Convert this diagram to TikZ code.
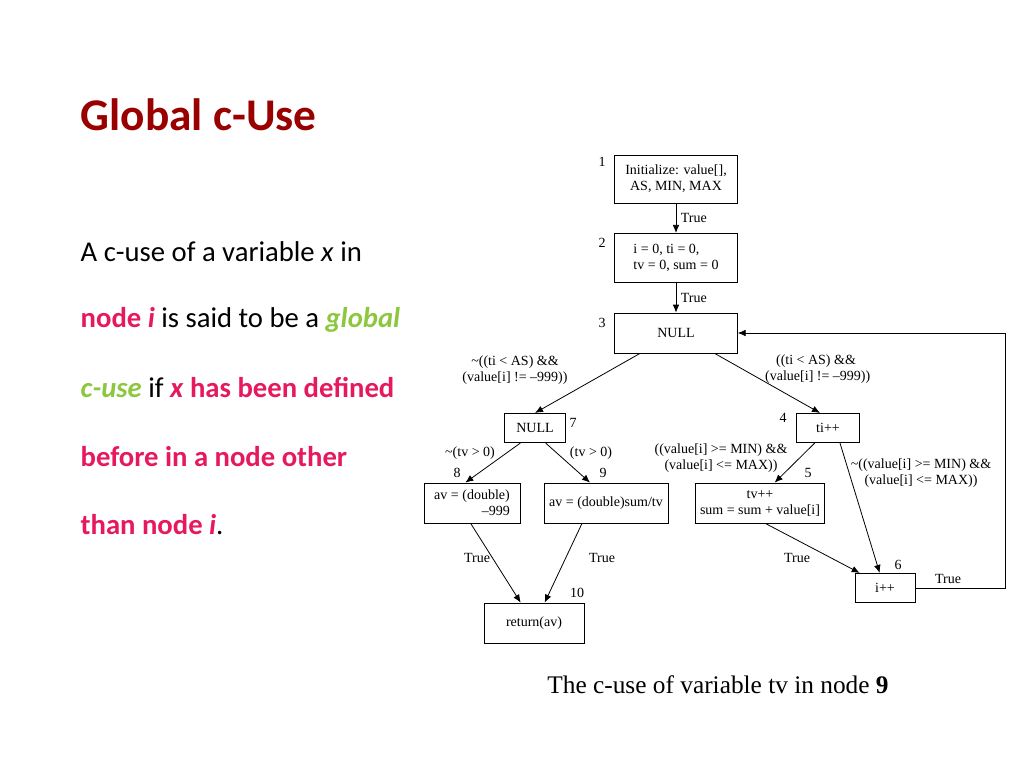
\documentclass[tikz,border=0pt]{standalone}
\usepackage{fontspec}
\setmainfont{Liberation Serif}
\newfontfamily\slidefont{Carlito}
\usetikzlibrary{arrows.meta}
\usetikzlibrary{positioning}
\definecolor{titlered}{HTML}{990000}
\definecolor{hotpink}{HTML}{E6195E}
\definecolor{limegreen}{HTML}{8DC63F}
\tikzset{
    blk/.style={draw, semithick, inner sep=0pt, align=center, font=\fontsize{10.5}{12}\selectfont},
    num/.style={font=\fontsize{10.5}{11}\selectfont},
    lbl/.style={font=\fontsize{10.5}{12}\selectfont, align=center},
    flow/.style={-{Latex[length=6pt,width=5pt]}, semithick},
    bodyline/.style={anchor=west, font=\slidefont\fontsize{21.5}{24}\selectfont}
}
\begin{document}
\begin{tikzpicture}[x=0.75pt, y=-0.75pt]
    \useasboundingbox (0,0) rectangle (1024,768);
    \node [anchor=west, text=titlered, font=\slidefont\bfseries\fontsize{34}{40}\selectfont] (title) at (76,115) {Global c-Use};
    \node [bodyline] (t1) at (76,252) {A c-use of a variable \textit{x} in};
    \node [bodyline] (t2) at (76,320) {\textcolor{hotpink}{\textbf{node \textit{i}}} is said to be a \textcolor{limegreen}{\textbf{\textit{global}}}};
    \node [bodyline] (t3) at (76,388) {\textcolor{limegreen}{\textbf{\textit{c-use}}} if \textcolor{hotpink}{\textbf{\textit{x} has been defined}}};
    \node [bodyline, text=hotpink] (t4) at (76,457) {\textbf{before in a node other}};
    \node [bodyline] (t5) at (76,525) {\textcolor{hotpink}{\textbf{than node \textit{i}}}.};
    % blocks
    \node [blk, minimum width=92pt, minimum height=36pt] (1) at (676,179) {Initialize: value[],\\AS, MIN, MAX};
    \node [blk, minimum width=92pt, minimum height=37pt, align=left] (2) at (676,258) {i = 0, ti = 0,\\tv = 0, sum = 0};
    \node [blk, minimum width=92pt, minimum height=30pt] (3) at (676,333) {NULL};
    \node [blk, minimum width=46pt, minimum height=22pt] (7) at (535,428) {NULL};
    \node [blk, minimum width=47pt, minimum height=22pt] (4) at (828,428) {ti++};
    \node [blk, minimum width=72pt, minimum height=30pt, align=right] (8) at (472,503) {av = (double)\\--999};
    \node [blk, minimum width=93pt, minimum height=30pt] (9) at (606,503) {av = (double)sum/tv};
    \node [blk, minimum width=97pt, minimum height=30pt] (5) at (760,503) {tv++\\sum = sum + value[i]};
    \node [blk, minimum width=45pt, minimum height=22pt] (6) at (885,588) {i++};
    \node [blk, minimum width=75pt, minimum height=30pt] (10) at (534,623) {return(av)};
    % numbers
    \node [num] at (602,162) {1};
    \node [num] at (602,243) {2};
    \node [num] at (602,323) {3};
    \node [num] at (573,423) {7};
    \node [num] at (783,418) {4};
    \node [num] at (457,473) {8};
    \node [num] at (603,473) {9};
    \node [num] at (808,473) {5};
    \node [num] at (898,565) {6};
    \node [num] at (577,593) {10};
    % edges
    \draw [flow] (1) -- node [lbl, right] {True} (2);
    \draw [flow] (2) -- node [lbl, right] {True} (3);
    \draw [flow] ([xshift=-27pt]3.south) -- (7.north);
    \draw [flow] ([xshift=29pt]3.south) -- ([xshift=-6pt]4.north);
    \draw [flow] ([xshift=-11pt]7.south) -- ([xshift=-5pt]8.north);
    \draw [flow] ([xshift=8pt]7.south) -- ([xshift=-12pt]9.north);
    \draw [flow] ([xshift=-10pt]4.south) -- ([xshift=11pt]5.north);
    \draw [flow] ([xshift=9pt]4.south) -- ([xshift=-4pt]6.north);
    \draw [flow] ([xshift=-1pt]8.south) -- ([xshift=-10pt]10.north);
    \draw [flow] ([xshift=-18pt]9.south) -- ([xshift=8pt]10.north);
    \draw [flow] ([xshift=4pt]5.south) -- ([xshift=-19pt]6.north);
    \draw [flow] (6.east) -- (1005,588) -- (1005,333) -- (3.east);
    % edge labels
    \node [lbl] at (515,370) {\textasciitilde((ti < AS) \&\&\\(value[i] != --999))};
    \node [lbl] at (816,369) {((ti < AS) \&\&\\\ (value[i] != --999))};
    \node [lbl] at (470,453) {\textasciitilde(tv > 0)};
    \node [lbl] at (591,453) {(tv > 0)};
    \node [lbl] at (721,458) {((value[i] >= MIN) \&\&\\(value[i] <= MAX))};
    \node [lbl] at (921,473) {\textasciitilde((value[i] >= MIN) \&\&\\(value[i] <= MAX))};
    \node [lbl] at (477,558) {True};
    \node [lbl] at (602,558) {True};
    \node [lbl] at (797,558) {True};
    \node [lbl] at (948,579) {True};
    \node [font=\fontsize{19}{22}\selectfont] (cap) at (718,685) {The c-use of variable tv in node \textbf{9}};
\end{tikzpicture}
\end{document}
